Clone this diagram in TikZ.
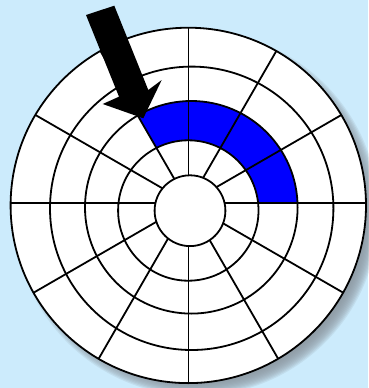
\documentclass[tikz,border=0pt]{standalone}
\usetikzlibrary{calc}
\definecolor{bgblue}{HTML}{CCEBFC}
\definecolor{shadowgray}{HTML}{8C97A0}
\definecolor{diskblue}{HTML}{0000FF}
\begin{document}
\begin{tikzpicture}[x=1pt,y=-1pt,
  ring/.style={draw=black, line width=1.8pt},
  spoke/.style={draw=black, line width=1.8pt}]
\fill[bgblue] (0,0) rectangle (368,388);
\useasboundingbox (0,0) rectangle (368,388);
\coordinate (o) at (188.4,203.3);
\coordinate (c5) at (188.3,205.4);
\coordinate (c4) at (191.7,208.3);
\coordinate (c3) at (191.3,207.3);
\coordinate (c2) at (188.3,210.5);
\coordinate (c1) at (190.0,210.7);
\coordinate (sh) at (196.3,213.4);
% shadow
\foreach \i in {0,...,12}{
  \fill[shadowgray, opacity=0.16] (sh) circle[radius={168pt+\i*1.2pt}];
}
% disk
\fill[white] (c5) circle[radius=177.7pt];
% blue sectors
\begin{scope}
  \clip (o) -- +(300,0) -- +(300,-300) -- +(-173.2,-300) -- cycle;
  \fill[diskblue, even odd rule] (c3) circle[radius=106.3pt] (c2) circle[radius=70.2pt];
\end{scope}
% spokes
\begin{scope}
  \clip (c5) circle[radius=177.7pt];
  \foreach \a in {0,30,...,330}{
    \draw[spoke] (o) -- +({200*cos(\a)},{200*sin(\a)});
  }
\end{scope}
\fill[white] (c1) circle[radius=35.4pt];
% rings
\draw[ring] (c5) circle[radius=177.7pt];
\draw[ring] (c4) circle[radius=141.7pt];
\draw[ring] (c3) circle[radius=106.3pt];
\draw[ring] (c2) circle[radius=70.2pt];
\draw[ring] (c1) circle[radius=35.4pt];
% arrow
\fill[black] (86,15) -- (114.3,5.7) -- (148.3,90) -- (161.7,80) -- (143.3,118.3) -- (102.7,104) -- (119,96.7) -- cycle;
\end{tikzpicture}
\end{document}
